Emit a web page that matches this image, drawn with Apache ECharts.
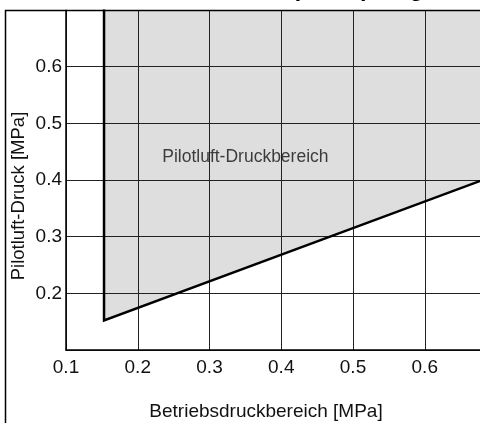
<!DOCTYPE html>
<html>
<head>
<meta charset="utf-8">
<script src="https://cdn.jsdelivr.net/npm/echarts@6/dist/echarts.min.js"></script>
<style>
  html, body { margin: 0; padding: 0; background: #fff; }
  #chart { width: 480px; height: 423px; }
</style>
</head>
<body>
<div id="chart"></div>
<script>
// Operating range of pilot air pressure vs. working pressure
const titleText = 'Pilotluft-Druckbereich (N.C., pilotgesteuert)';
const xName = 'Betriebsdruckbereich [MPa]';
const yName = 'Pilotluft-Druck [MPa]';
const regionLabel = 'Pilotluft-Druckbereich';

// Axis ranges (MPa)
const xMin = 0.1, xMax = 0.677, xStep = 0.1;
const yMin = 0.1, yMax = 0.7, yStep = 0.1;

// Boundary of the permitted range: left limit, lowest corner, lower limit line
const boundaryX = [0.153, 0.153, 0.7];
const boundaryY = [0.75, 0.152, 0.409];

// Closed outline of the shaded region (runs past the top of the plot)
const regionX = [0.153, 0.153, 0.7, 0.7];
const regionY = [0.75, 0.152, 0.409, 0.75];

// Position of the region caption
const labelPos = [0.35, 0.44];

const font = '"Liberation Sans", Arial, Helvetica, sans-serif';

const chart = echarts.init(document.getElementById('chart'), null, { renderer: 'canvas' });

const boundaryData = boundaryX.map((x, i) => [x, boundaryY[i]]);

chart.setOption({
  animation: false,
  backgroundColor: '#fff',
  grid: { left: 66, top: 10, right: 0, bottom: 73, containLabel: false },
  xAxis: {
    type: 'value', min: xMin, max: xMax, interval: xStep,
    axisLine: { show: true, lineStyle: { color: '#000', width: 1.5 } },
    axisTick: { show: false },
    axisLabel: {
      color: '#111', fontFamily: font, fontSize: 19, margin: 8,
      showMaxLabel: false,
      formatter: v => v.toFixed(1)
    },
    splitLine: { show: true, lineStyle: { color: '#222', width: 1 } }
  },
  yAxis: {
    type: 'value', min: yMin, max: yMax, interval: yStep,
    axisLine: { show: true, lineStyle: { color: '#000', width: 1.5 } },
    axisTick: { show: false },
    axisLabel: {
      color: '#111', fontFamily: font, fontSize: 19, margin: 4,
      showMinLabel: false, showMaxLabel: false,
      formatter: v => v.toFixed(1)
    },
    splitLine: { show: true, lineStyle: { color: '#222', width: 1 } }
  },
  graphic: [
    {
      // white band above the frame so nothing from the plot spills upward
      type: 'rect', zlevel: 1, z: 1,
      shape: { x: 0, y: 0, width: 480, height: 9.6 },
      style: { fill: '#fff', stroke: 'none' }
    },
    {
      type: 'rect', zlevel: 1, z: 2,
      shape: { x: 5.5, y: 10.5, width: 600, height: 600 },
      style: { fill: 'none', stroke: '#000', lineWidth: 1.5 }
    },
    {
      type: 'text', zlevel: 1, z: 3, left: 40, top: -22,
      style: { text: titleText, font: 'bold 23.5px ' + font, fill: '#000' }
    },
    {
      type: 'text', z: 100,
      x: 266, y: 412,
      style: { text: xName, font: '19px ' + font, fill: '#111', align: 'center', verticalAlign: 'middle' }
    },
    {
      type: 'text', z: 100,
      x: 19, y: 196, rotation: Math.PI / 2,
      style: { text: yName, font: '18.5px ' + font, fill: '#111', align: 'center', verticalAlign: 'middle' }
    }
  ],
  series: [
    {
      type: 'custom',
      z: -1,
      clip: true,
      silent: true,
      data: [0],
      renderItem: (params, api) => {
        const pts = regionX.map((x, i) => api.coord([x, regionY[i]]));
        return {
          type: 'polygon',
          shape: { points: pts },
          style: { fill: '#dedede', stroke: 'none' }
        };
      }
    },
    {
      type: 'line',
      data: boundaryData,
      symbol: 'none',
      clip: true,
      z: 5,
      lineStyle: { color: '#000', width: 2.5, join: 'miter' }
    },
    {
      type: 'scatter',
      data: [labelPos],
      symbolSize: 0,
      silent: true,
      z: 6,
      label: {
        show: true, position: 'inside',
        formatter: regionLabel,
        color: '#111', fontFamily: font, fontSize: 17.5
      }
    }
  ]
});
</script>
</body>
</html>
